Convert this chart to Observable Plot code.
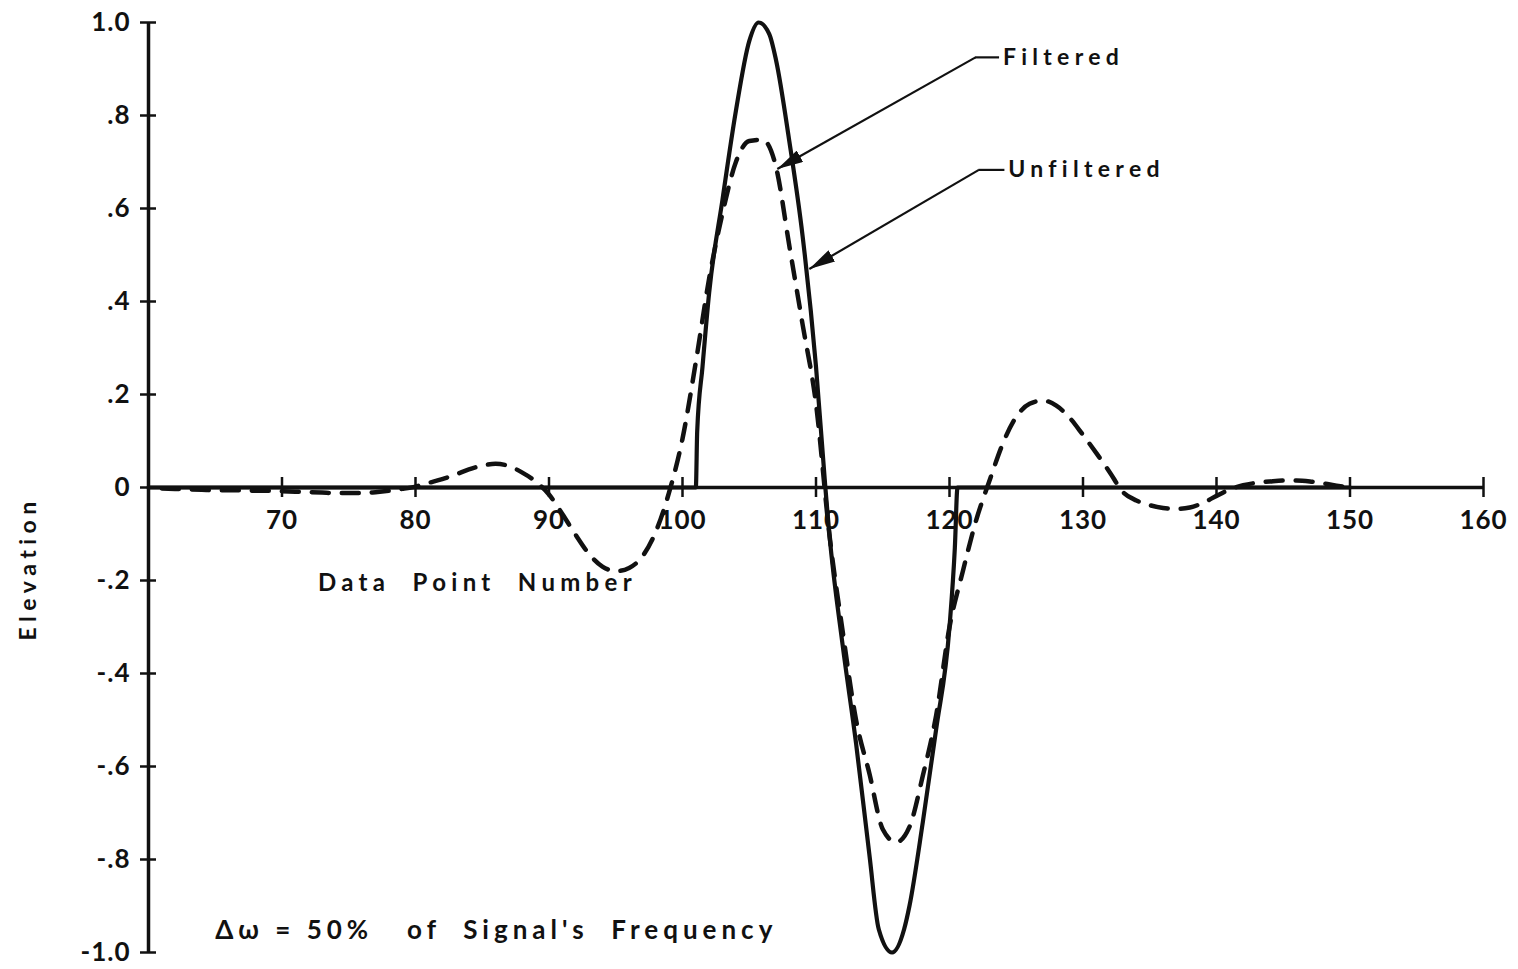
<!DOCTYPE html>
<html>
<head>
<meta charset="utf-8">
<script src="https://cdn.jsdelivr.net/npm/d3@7"></script>
<script src="https://cdn.jsdelivr.net/npm/@observablehq/plot@0.6"></script>
<style>
  html, body { margin: 0; padding: 0; background: #fff; }
  #chart svg { display: block; }
</style>
</head>
<body>
<div id="chart"></div>
<script>
// Axis ticks
const xTicks = [70, 80, 90, 100, 110, 120, 130, 140, 150, 160];
const yTicks = [1, 0.8, 0.6, 0.4, 0.2, 0, -0.2, -0.4, -0.6, -0.8, -1];
const yTickLabels = ["1.0", ".8", ".6", ".4", ".2", "0", "-.2", "-.4", "-.6", "-.8", "-1.0"];

// Unfiltered signal: one truncated wave, zero elsewhere [data point, elevation]
const unfiltered = [
  [60, 0], [101, 0], [101.1, 0.12], [101.5, 0.26], [102, 0.42], [103, 0.62],
  [104, 0.81], [105, 0.96], [105.7, 1.0], [106.5, 0.975], [107, 0.92], [108, 0.745],
  [109, 0.54], [110, 0.26], [110.7, 0], [111, -0.1], [112, -0.34], [113, -0.55],
  [114, -0.79], [114.7, -0.95], [115.7, -1.0], [116.6, -0.95], [117, -0.9],
  [118, -0.72], [119, -0.52], [120, -0.30], [120.4, -0.13], [120.6, 0], [150, 0]
];

// Filtered signal [data point, elevation]
const filtered = [
  [61, -0.002], [62, -0.003], [63, -0.004], [64, -0.005], [65, -0.006], [66, -0.006],
  [67, -0.006], [68, -0.007], [69, -0.007], [70, -0.008], [71, -0.009], [72, -0.010],
  [73, -0.011], [74, -0.012], [75, -0.012], [76, -0.012], [77, -0.010], [78, -0.007],
  [79, -0.003], [80, 0.002], [81, 0.010], [82, 0.018], [83, 0.028], [84, 0.039],
  [85, 0.047], [86, 0.051], [87, 0.046], [88, 0.032], [89, 0.013], [90, -0.015],
  [91, -0.057], [92, -0.102], [93, -0.143], [94, -0.170], [95, -0.180], [96, -0.173],
  [97, -0.148], [98, -0.095], [99, -0.010], [100, 0.105], [101, 0.27], [102, 0.45],
  [103, 0.59], [104, 0.70], [105, 0.745], [106, 0.748], [107, 0.69], [108, 0.52],
  [109, 0.35], [110, 0.18], [111, -0.10], [112, -0.31], [113, -0.50], [114, -0.615],
  [115, -0.735], [116, -0.763], [117, -0.73], [118, -0.62], [119, -0.49], [120, -0.30],
  [121, -0.18], [122, -0.07], [123, 0.015], [124, 0.095], [125, 0.152], [126, 0.180],
  [127, 0.187], [128, 0.176], [129, 0.150], [130, 0.113], [131, 0.074], [132, 0.033],
  [133, -0.010], [134, -0.028], [135, -0.038], [136, -0.044], [137, -0.046], [138, -0.043],
  [139, -0.033], [140, -0.018], [141, -0.004], [142, 0.005], [143, 0.010], [144, 0.013],
  [145, 0.015], [146, 0.015], [147, 0.013], [148, 0.009], [149, 0.004], [150, 0.000]
];

// Callouts: label, label start, label height, elbow, arrow tip
const noteLabels = ["Filtered", "Unfiltered"];
const noteTextX = [124.0, 124.4];
const noteY = [0.925, 0.683];
const noteElbowX = [121.95, 122.2];
const noteTipX = [107.1, 109.5];
const noteTipY = [0.685, 0.47];

const xTitle = "Data  Point  Number";
const yTitle = "Elevation";
const caption = "\u0394\u03c9 = 50%   of  Signal's  Frequency";

// Layout
const W = 1518, H = 969;
const mL = 148, mR = 35, mT = 22, mB = 17;
const xDom = [60, 160], yDom = [-1, 1];
const kx = (W - mL - mR) / (xDom[1] - xDom[0]); // px per data point
const ky = (H - mT - mB) / (yDom[1] - yDom[0]); // px per elevation unit

const font = "Lato, 'DejaVu Sans', sans-serif";
const ink = "#111";

const notes = noteLabels.map((label, i) => ({
  label, tx: noteTextX[i], y: noteY[i], ex: noteElbowX[i], px: noteTipX[i], py: noteTipY[i]
}));

const chart = Plot.plot({
  width: W,
  height: H,
  marginLeft: mL,
  marginRight: mR,
  marginTop: mT,
  marginBottom: mB,
  x: {domain: xDom, axis: null},
  y: {domain: yDom, axis: null},
  style: {fontFamily: font, color: ink, background: "#fff"},
  marks: [
    // axes drawn through the origin
    Plot.ruleY([0], {x1: xDom[0], x2: xDom[1], stroke: ink, strokeWidth: 3.5}),
    Plot.ruleX([xDom[0]], {y1: yDom[0], y2: yDom[1], stroke: ink, strokeWidth: 3.5}),
    Plot.ruleX(xTicks, {x: d => d, y1: -10 / ky, y2: 10 / ky, stroke: ink, strokeWidth: 2.5}),
    Plot.ruleY(yTicks, {y: d => d, x1: xDom[0] - 8 / kx, x2: xDom[0] + 8 / kx, stroke: ink, strokeWidth: 2.5}),
    Plot.text(xTicks, {x: d => d, y: 0, dy: 33, text: d => String(d), fontSize: 26, fill: ink}),
    Plot.text(yTicks, {x: xDom[0], y: d => d, dx: -18, text: (d, i) => yTickLabels[i], textAnchor: "end", fontSize: 26, fill: ink}),

    // signals
    Plot.line(unfiltered, {x: d => d[0], y: d => d[1], curve: "monotone-x", stroke: ink, strokeWidth: 4.2}),
    Plot.line(filtered, {x: d => d[0], y: d => d[1], curve: "monotone-x", stroke: ink, strokeWidth: 4.5,
      strokeDasharray: "17,13", strokeLinecap: "round"}),

    // callouts
    Plot.ruleY(notes, {y: "y", x1: "ex", x2: d => d.tx - 0.25, stroke: ink, strokeWidth: 2.2}),
    Plot.link(notes, {x1: "ex", y1: "y", x2: "px", y2: "py", stroke: ink, strokeWidth: 2.2}),
    Plot.text(notes, {x: "tx", y: "y", text: "label", textAnchor: "start", fontSize: 23, fill: ink}),

    // titles
    Plot.text([xTitle], {x: 72.7, y: -0.207, text: d => d, textAnchor: "start", fontSize: 24, fill: ink}),
    Plot.text([yTitle], {frameAnchor: "left", y: -0.174, dx: -120, rotate: -90, textAnchor: "middle", text: d => d, fontSize: 23, fill: ink}),
    Plot.text([caption], {x: 65.0, y: -0.953, text: d => d, textAnchor: "start", fontSize: 26, fill: ink})
  ]
});

// filled arrowheads on the callout leaders
const svg = d3.select(chart);
svg.append("defs").append("marker")
  .attr("id", "callout-head")
  .attr("viewBox", "0 0 26 13")
  .attr("refX", 26).attr("refY", 6.5)
  .attr("markerWidth", 26).attr("markerHeight", 13)
  .attr("markerUnits", "userSpaceOnUse")
  .attr("orient", "auto")
  .append("path")
  .attr("d", "M0,0L26,6.5L0,13Z")
  .attr("fill", ink);
svg.selectAll('g[aria-label="link"] path').attr("marker-end", "url(#callout-head)");

// letter spacing for the hand-lettered look
const spacing = new Map([
  [xTitle, 5.3], [yTitle, 5.5], [caption, 5.0], ["Filtered", 5.3], ["Unfiltered", 5.3]
]);
svg.selectAll("text").each(function() {
  const t = this.textContent;
  this.setAttribute("letter-spacing", spacing.has(t) ? spacing.get(t) : 1);
  this.setAttribute("font-weight", "bold");
});

document.getElementById("chart").appendChild(chart);
</script>
</body>
</html>
